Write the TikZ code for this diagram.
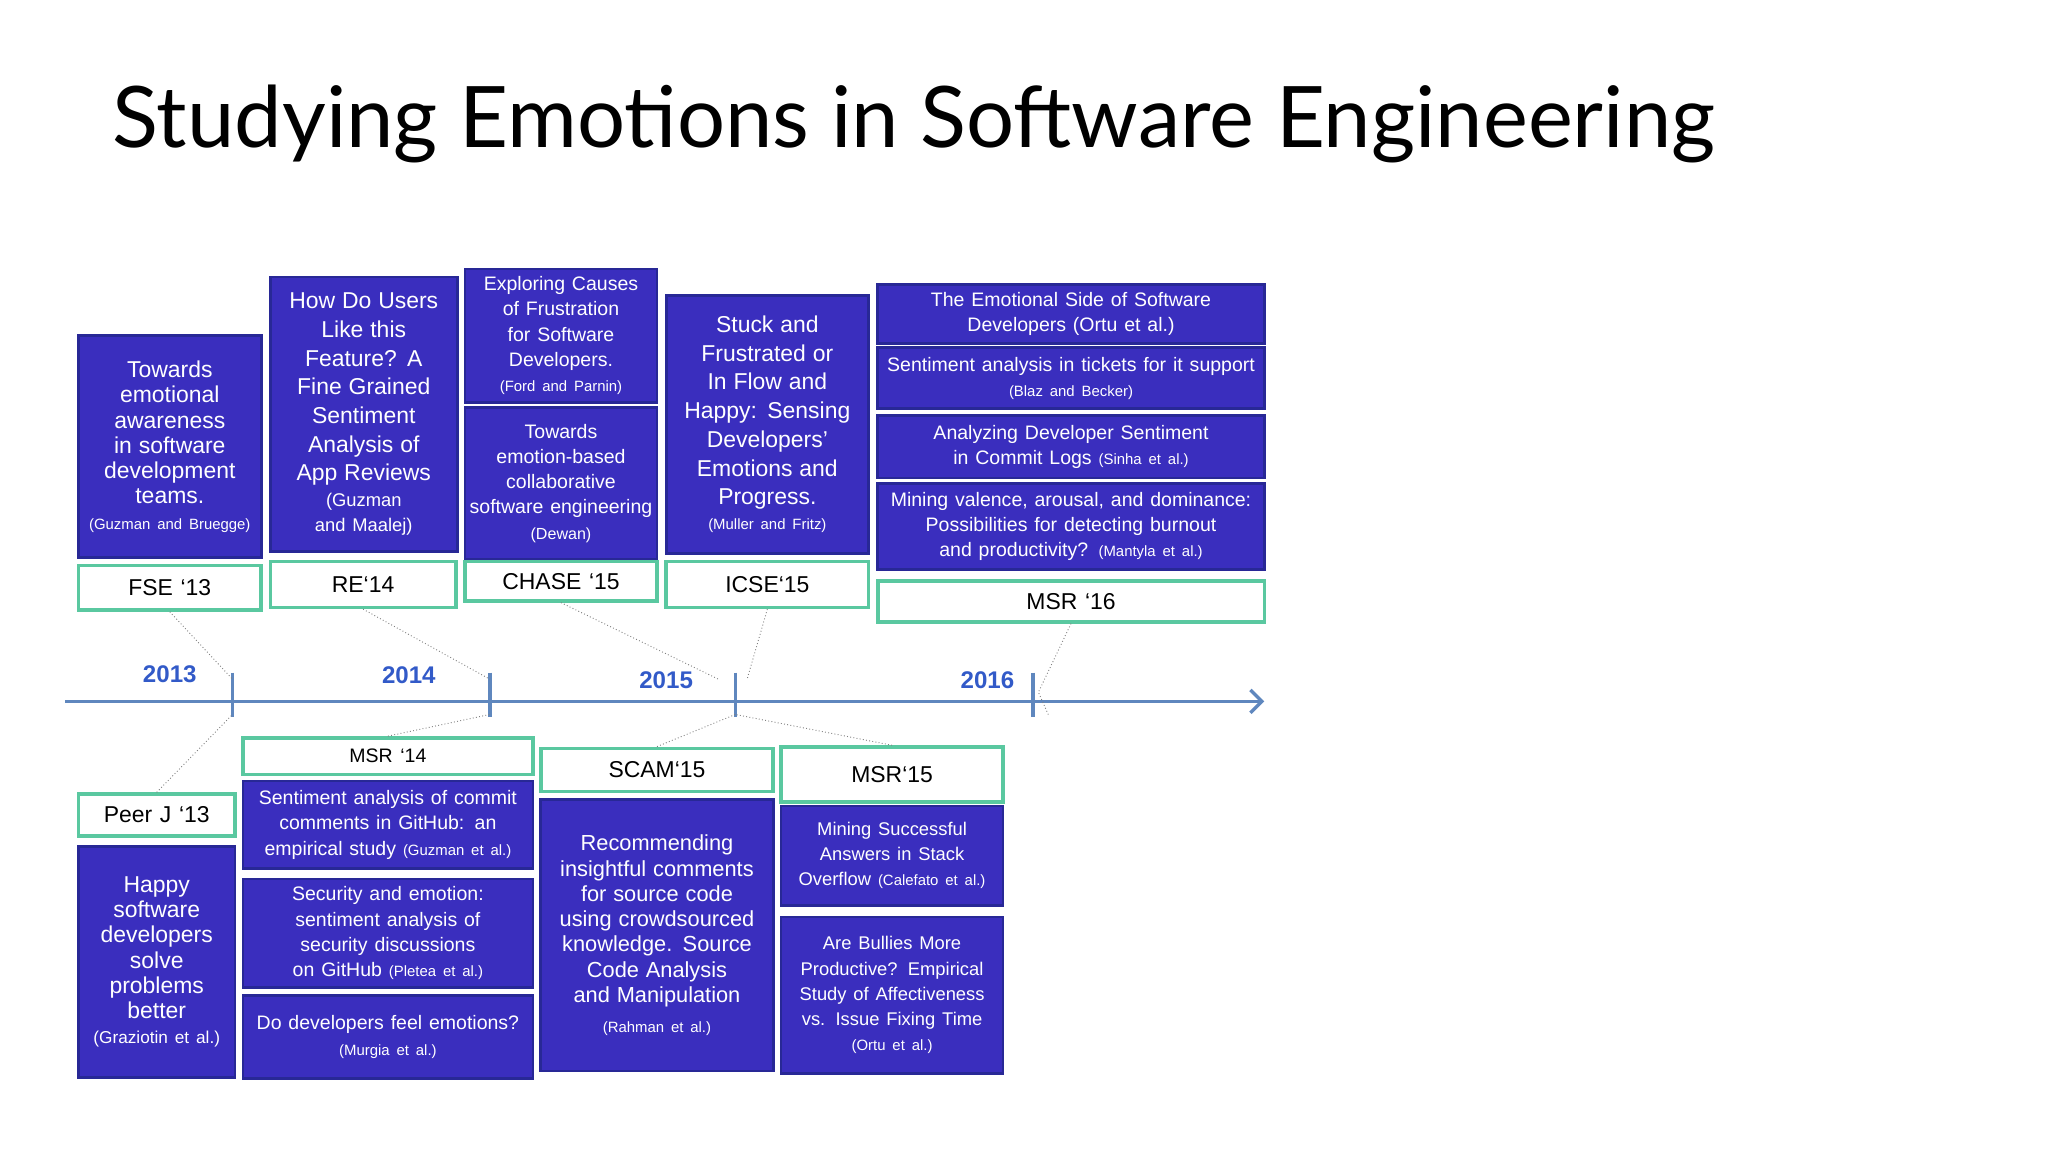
\documentclass[tikz,border=0pt]{standalone}
\usepackage{fontspec}
\setmainfont{Liberation Sans}
\newfontfamily\titlefont{Lato}
\usetikzlibrary{arrows.meta}
\definecolor{paperblue}{RGB}{58,46,190}
\definecolor{paperedge}{RGB}{40,40,150}
\definecolor{venuegreen}{RGB}{90,200,160}
\definecolor{lineblue}{RGB}{95,135,190}
\definecolor{yearblue}{RGB}{50,90,200}
\tikzset{
  paper/.style={fill=paperblue, draw=paperedge, line width=1.2pt, text=white, align=center, inner sep=1pt, font=\fontsize{9}{11}\selectfont},
  venue/.style={fill=white, draw=venuegreen, line width=1.6pt, align=center, inner sep=0pt, font=\fontsize{10}{12}\selectfont},
  link/.style={densely dotted, gray, thin},
  year/.style={text=yearblue, font=\bfseries\fontsize{10.5}{12}\selectfont}
}
% \pbox{name}{style}{x1}{y1}{x2}{y2}{text}
\newcommand{\pbox}[7]{%
  \pgfmathsetmacro{\bw}{(#5-#3)*0.02}%
  \pgfmathsetmacro{\bh}{(#6-#4)*0.02}%
  \node[#2, minimum width=\bw cm, minimum height=\bh cm, text width=\bw cm-4pt] (#1) at ({(#3+#5)/2},{(#4+#6)/2}) {#7};}
\newcommand{\sm}[1]{{\fontsize{6.5}{8}\selectfont #1}}
\begin{document}
\hyphenpenalty=10000 \exhyphenpenalty=10000
\begin{tikzpicture}[x=0.02cm, y=-0.02cm]
\useasboundingbox (0,0) rectangle (1568,882);
\node[anchor=west, font=\titlefont\fontsize{37}{44}\selectfont] (title) at (80,95) {Studying Emotions in Software Engineering};

% timeline
\draw[lineblue, line width=1.5pt, -{Straight Barb[length=5pt]}] (50,537) -- (968,537);
\foreach \t/\n in {178/a, 375/b, 563/c, 791/d}
  {
    \draw[lineblue, line width=1.5pt] (\t,515) -- (\t,549);
    \coordinate (t\n) at (\t,520);
    \coordinate (b\n) at (\t,547);
  }
\node[year] (y13) at (130,516) {2013};
\node[year] (y14) at (313,517) {2014};
\node[year] (y15) at (510,521) {2015};
\node[year] (y16) at (756,521) {2016};

% top row
\pbox{p1}{paper}{60}{257}{200}{427}{{\fontsize{10}{12.5}\selectfont Towards emotional awareness in software development teams.}\\ \sm{(Guzman and Bruegge)}}
\pbox{v1}{venue}{60}{433}{200}{467}{FSE `13}
\pbox{p2}{paper}{207}{212}{350}{422}{\fontsize{10}{12.5}\selectfont How Do Users Like this Feature? A Fine Grained Sentiment Analysis of App Reviews\\ {\fontsize{8}{10}\selectfont(Guzman and Maalej)}}
\pbox{v2}{venue}{207}{430}{349}{465}{RE`14}
\pbox{p3}{paper}{356}{206}{503}{308}{{\fontsize{8.5}{10.5}\selectfont Exploring Causes of Frustration for Software Developers.}\\ \sm{(Ford and Parnin)}}
\pbox{p4}{paper}{356}{312}{503}{428}{{\fontsize{8.5}{10.5}\selectfont Towards emotion-based collaborative software engineering}\\ {\fontsize{7}{8.5}\selectfont(Dewan)}}
\pbox{v3}{venue}{356}{430}{503}{460}{CHASE `15}
\pbox{p5}{paper}{510}{226}{665}{424}{\fontsize{10}{12.5}\selectfont Stuck and Frustrated or In Flow and Happy: Sensing Developers' Emotions and Progress.\\ \sm{(Muller and Fritz)}}
\pbox{v4}{venue}{510}{430}{665}{465}{ICSE`15}
\pbox{p6}{paper}{672}{218}{968}{263}{{\fontsize{8.5}{10}\selectfont The Emotional Side of Software Developers (Ortu et al.)}}
\pbox{p7}{paper}{672}{266}{968}{313}{{\fontsize{8.5}{10}\selectfont Sentiment analysis in tickets for it support}\\ \sm{(Blaz and Becker)}}
\pbox{p8}{paper}{672}{318}{968}{366}{{\fontsize{8.5}{10}\selectfont Analyzing Developer Sentiment in Commit Logs} \sm{(Sinha et al.)}}
\pbox{p9}{paper}{672}{370}{968}{436}{{\fontsize{8.5}{10.5}\selectfont Mining valence, arousal, and dominance: Possibilities for detecting burnout and productivity?} \sm{(Mantyla et al.)}}
\pbox{v5}{venue}{672}{445}{968}{476}{MSR `16}

% bottom row
\pbox{v6}{venue}{60}{608}{180}{640}{Peer J `13}
\pbox{p10}{paper}{60}{648}{180}{825}{{\fontsize{10}{12.5}\selectfont Happy software developers solve problems better}\\ {\fontsize{7.5}{9}\selectfont(Graziotin et al.)}}
\pbox{v7}{venue}{186}{565}{408}{593}{\fontsize{8.5}{10}\selectfont MSR `14}
\pbox{p11}{paper}{186}{598}{408}{665}{{\fontsize{8.5}{10}\selectfont Sentiment analysis of commit comments in GitHub: an empirical study} \sm{(Guzman et al.)}}
\pbox{p12}{paper}{186}{673}{408}{756}{{\fontsize{8.5}{10}\selectfont Security and emotion: sentiment analysis of security discussions on GitHub} \sm{(Pletea et al.)}}
\pbox{p13}{paper}{186}{762}{408}{826}{{\fontsize{8.5}{10}\selectfont Do developers feel emotions?}\\ \sm{(Murgia et al.)}}
\pbox{v8}{venue}{414}{573}{592}{606}{SCAM`15}
\pbox{p14}{paper}{414}{612}{592}{820}{{\fontsize{9.5}{12.5}\selectfont Recommending insightful comments for source code using crowdsourced knowledge. Source Code Analysis and Manipulation}\\[2pt] \sm{(Rahman et al.)}}
\pbox{v9}{venue}{598}{572}{768}{614}{MSR`15}
\pbox{p15}{paper}{598}{617}{768}{693}{{\fontsize{8}{10}\selectfont Mining Successful Answers in Stack Overflow} \sm{(Calefato et al.)}}
\pbox{p16}{paper}{598}{702}{768}{822}{{\fontsize{8}{10}\selectfont Are Bullies More Productive? Empirical Study of Affectiveness vs. Issue Fixing Time}\\ \sm{(Ortu et al.)}}

% dotted links
\draw[link] (v1.south) -- (ta);
\draw[link] (v2.south) -- (tb);
\draw[link] (v3.south) -- (550,520);
\draw[link] (v4.south) -- (572,520);
\draw[link] (v5.south) -- (795,530) -- (803,548);
\draw[link] (v6.north) -- (ba);
\draw[link] (v7.north) -- (bb);
\draw[link] (v8.north) -- (bc);
\draw[link] (v9.north) -- (bc);
\end{tikzpicture}
\end{document}
